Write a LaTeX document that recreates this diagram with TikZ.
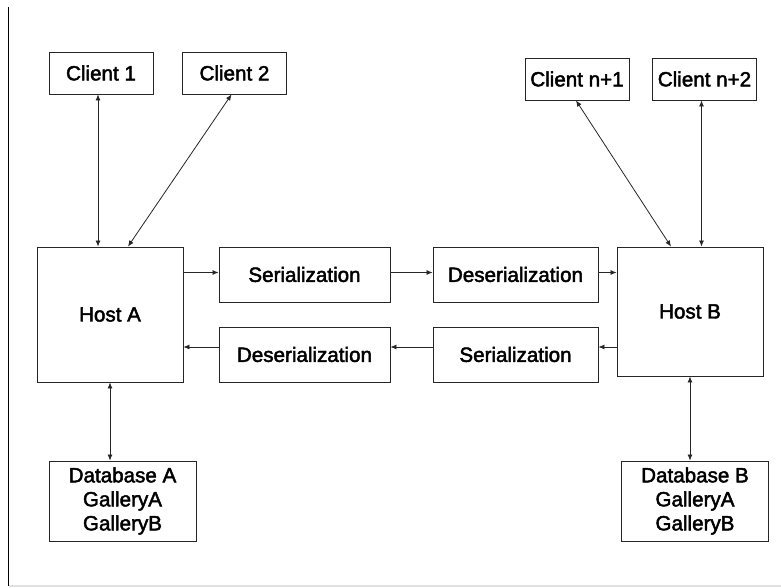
\documentclass[tikz,border=0pt]{standalone}
\usepackage{fontspec}
\setmainfont{Liberation Sans}
\newfontfamily\lblfont{Liberation Sans}[FakeBold=2.2]
\usetikzlibrary{arrows.meta}
\begin{document}
\begin{tikzpicture}[x=1pt,y=-1pt,
  box/.style={draw=black!85,line width=0.9pt,inner sep=0pt,align=center,
    font=\lblfont\fontsize{20.6}{24}\selectfont},
  client/.style={box,minimum width=104pt,minimum height=42pt},
  host/.style={box,minimum width=146pt},
  codec/.style={box,minimum height=55pt},
  dbase/.style={box,minimum width=147pt,minimum height=80pt},
  link/.style={draw=black!85,line width=0.8pt,-{Latex[length=6pt,width=5pt]}},
  duplex/.style={link,{Latex[length=6pt,width=5pt]}-{Latex[length=6pt,width=5pt]}}]
\useasboundingbox (0,0) rectangle (781,587);
\fill[white] (0,0) rectangle (781,587);

% frame edges
\draw[black,line width=1.5pt] (8.3,7) -- (8.3,586);
\draw[black!12,line width=1.2pt] (9,586) -- (781,586);

% clients
\node[client] (c1) at (101,73) {Client 1};
\node[client] (c2) at (234.5,73) {Client 2};
\node[client] (cn1) at (577,79) {Client n+1};
\node[client] (cn2) at (704.5,79) {Client n+2};

% hosts
\node[host,minimum height=135pt] (hA) at (110,314.5) {Host A};
\node[host,minimum height=129pt] (hB) at (690,311.5) {Host B};

% serialization stages
\node[codec,minimum width=171pt] (serA) at (304.5,274.5) {Serialization};
\node[codec,minimum width=171pt] (desA) at (304.5,354.5) {Deserialization};
\node[codec,minimum width=165pt] (desB) at (515.5,274.5) {Deserialization};
\node[codec,minimum width=165pt] (serB) at (515.5,354.5) {Serialization};

% databases
\node[dbase] (dA) at (122.5,501) {Database A\\GalleryA\\GalleryB};
\node[dbase] (dB) at (695,501) {Database B\\GalleryA\\GalleryB};

% client links
\draw[duplex] ([xshift=-3pt]c1.south) -- ([xshift=-3pt]c1.south |- hA.north);
\draw[duplex] ([xshift=-3pt]c2.south) -- ([xshift=18pt]hA.north);
\draw[duplex] ([xshift=-1pt]cn1.south) -- ([xshift=-19pt]hB.north);
\draw[duplex] ([xshift=-3pt]cn2.south) -- ([xshift=-3pt]cn2.south |- hB.north);

% database links
\draw[duplex] (hA.south) -- (hA.south |- dA.north);
\draw[duplex] (hB.south) -- (hB.south |- dB.north);

% data flow A -> B
\draw[link] ([yshift=2pt]serA.west -| hA.east) -- ([yshift=2pt]serA.west);
\draw[link] ([yshift=2pt]serA.east) -- ([yshift=2pt]desB.west);
\draw[link] ([yshift=2pt]desB.east) -- ([yshift=2pt]desB.east -| hB.west);

% data flow B -> A
\draw[link] ([yshift=7.5pt]serB.east -| hB.west) -- ([yshift=7.5pt]serB.east);
\draw[link] ([yshift=7.5pt]serB.west) -- ([yshift=7.5pt]desA.east);
\draw[link] ([yshift=7.5pt]desA.west) -- ([yshift=7.5pt]desA.west -| hA.east);
\end{tikzpicture}
\end{document}
